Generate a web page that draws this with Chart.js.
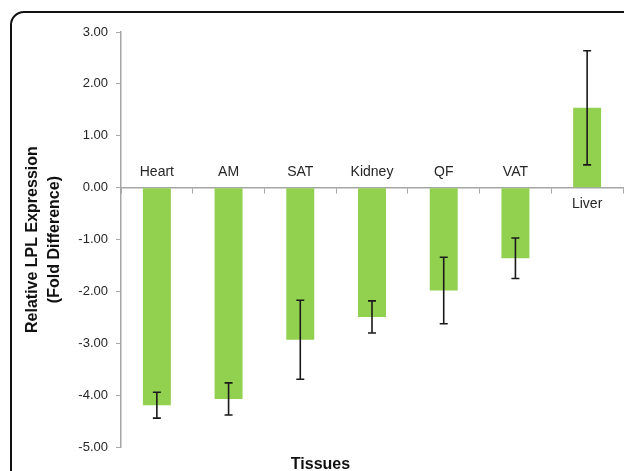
<!DOCTYPE html>
<html>
<head>
<meta charset="utf-8">
<script src="https://cdn.jsdelivr.net/npm/chart.js@4.4.1/dist/chart.umd.min.js"></script>
<style>
    html, body { margin: 0; padding: 0; background: #fff; overflow: hidden; }
    #wrap { position: relative; width: 624px; height: 471px; }
    #frame {
        position: absolute; left: 10px; top: 11px; width: 640px; height: 500px;
        border: 2px solid #111; border-radius: 14px; box-sizing: border-box;
        pointer-events: none;
    }
</style>
</head>
<body>
<div id="wrap">
    <canvas id="myChart" width="624" height="471"></canvas>
    <div id="frame"></div>
</div>
<script>
let tissues = ['Heart', 'AM', 'SAT', 'Kidney', 'QF', 'VAT', 'Liver'];
let foldDiff = [-4.19, -4.07, -2.93, -2.49, -1.98, -1.36, 1.54];
let errors = [0.25, 0.31, 0.76, 0.31, 0.64, 0.39, 1.1];
let yTicks = [3, 2, 1, 0, -1, -2, -3, -4, -5];

// error bars drawn from the bar elements and the y scale
const errorBars = {
    id: 'errorBars',
    afterDatasetsDraw(chart){
        let ctx = chart.ctx;
        let y = chart.scales.y;
        let meta = chart.getDatasetMeta(0);
        ctx.save();
        ctx.strokeStyle = '#1a1a1a';
        ctx.lineWidth = 1.6;
        meta.data.forEach(function(bar, i){
            let top = y.getPixelForValue(foldDiff[i] + errors[i]);
            let bottom = y.getPixelForValue(foldDiff[i] - errors[i]);
            ctx.beginPath();
            ctx.moveTo(bar.x, top);
            ctx.lineTo(bar.x, bottom);
            ctx.moveTo(bar.x - 4, top);
            ctx.lineTo(bar.x + 4, top);
            ctx.moveTo(bar.x - 4, bottom);
            ctx.lineTo(bar.x + 4, bottom);
            ctx.stroke();
        });
        ctx.restore();
    }
};

// category names sit on the opposite side of the zero line from the bar
const categoryLabels = {
    id: 'categoryLabels',
    afterDraw(chart){
        let ctx = chart.ctx;
        let x = chart.scales.x;
        let zero = chart.scales.y.getPixelForValue(0);
        ctx.save();
        ctx.font = '14px "Liberation Sans", Arial, sans-serif';
        ctx.fillStyle = '#262626';
        ctx.textAlign = 'center';
        ctx.textBaseline = 'middle';
        tissues.forEach(function(name, i){
            let px = x.getPixelForValue(i);
            let py = foldDiff[i] < 0 ? zero - 16 : zero + 16;
            ctx.fillText(name, px, py);
        });
        ctx.restore();
    }
};

let ctx = document.getElementById('myChart').getContext('2d');
let myChart = new Chart(ctx, {
    type: 'bar',
    data: {
        labels: tissues,
        datasets: [{
            label: 'Relative LPL Expression',
            data: foldDiff,
            backgroundColor: '#92d050',
            borderWidth: 0,
            barPercentage: 0.39,
            categoryPercentage: 1
        }]
    },
    options: {
        responsive: false,
        animation: false,
        layout: { padding: { left: 18, right: 1, top: 32, bottom: 0 } },
        plugins: {
            legend: { display: false },
            tooltip: { enabled: false },
            title: {
                display: true,
                position: 'bottom',
                text: 'Tissues',
                color: '#111',
                font: { family: '"Liberation Sans", Arial, sans-serif', size: 16, weight: 'bold', lineHeight: 0.8 },
                padding: { top: 11, bottom: 0 }
            }
        },
        scales: {
            x: {
                position: { y: 0 },
                ticks: { display: false },
                grid: { drawOnChartArea: false, tickLength: 5, color: '#a6a6a6', offset: true },
                border: { color: '#a6a6a6', width: 1.5 }
            },
            y: {
                min: -5,
                max: 3,
                afterFit(scale){ scale.width = 103; },
                afterBuildTicks(scale){ scale.ticks = yTicks.map(v => ({ value: v })); },
                ticks: {
                    padding: 8,
                    color: '#262626',
                    font: { family: '"Liberation Sans", Arial, sans-serif', size: 13 },
                    callback: function(v){ return Number(v).toFixed(2); }
                },
                grid: { drawOnChartArea: false, tickLength: 5, color: '#a6a6a6' },
                border: { color: '#a6a6a6', width: 1.5 },
                title: {
                    display: true,
                    text: ['Relative LPL Expression', '(Fold Difference)'],
                    color: '#111',
                    font: { family: '"Liberation Sans", Arial, sans-serif', size: 16, weight: 'bold', lineHeight: 1.35 },
                    padding: { top: 4, bottom: 4 }
                }
            }
        }
    },
    plugins: [errorBars, categoryLabels]
});
</script>
</body>
</html>
